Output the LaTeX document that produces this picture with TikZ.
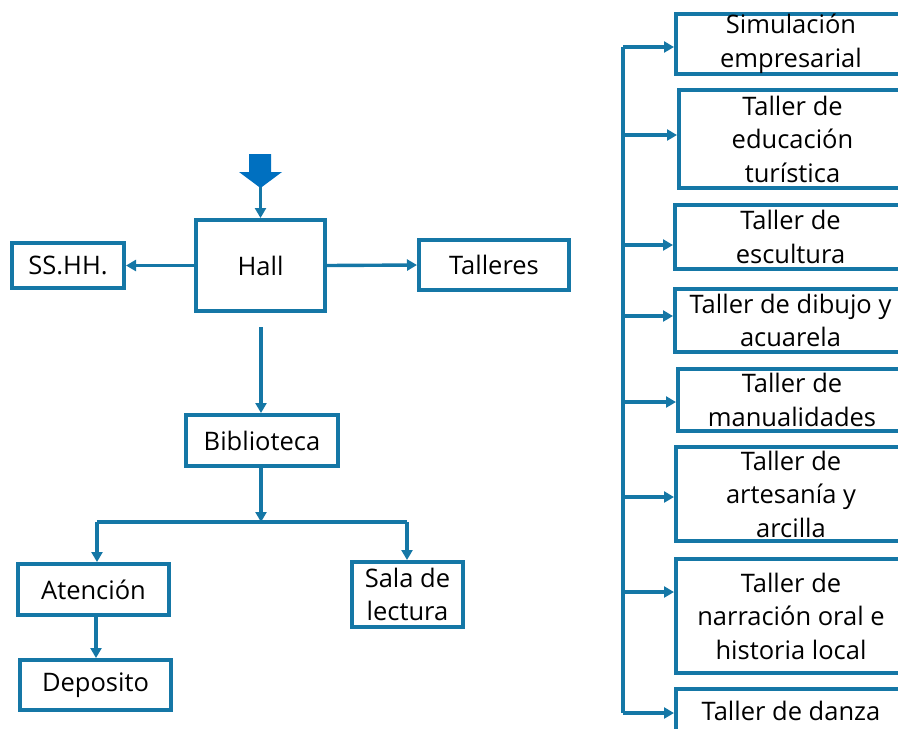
\documentclass[tikz,border=0pt]{standalone}
\usepackage{fontspec}
\setmainfont{Open Sans}
\usetikzlibrary{arrows.meta}
\definecolor{bord}{RGB}{21,119,166}
\definecolor{bigblue}{RGB}{0,112,192}
\begin{document}
\begin{tikzpicture}[x=1pt,y=-1pt,
  box/.style={draw=bord,line width=4pt,fill=white,align=center,inner sep=0pt,
    font=\fontsize{25.5}{33.5}\selectfont},
  conn/.style={draw=bord,line width=3.4pt},
  arr/.style={conn,-{Triangle[length=10pt,width=11pt]}},
]
\useasboundingbox (0,0) rectangle (898,729);
\clip (0,0) rectangle (898,729);
% left part
\node[box,minimum width=129pt,minimum height=91pt] (hall) at (260.5,265.5) {Hall};
\node[box,minimum width=112pt,minimum height=45pt] (sshh) at (68,265.5) {SS.HH.};
\node[box,minimum width=150pt,minimum height=50pt] (talleres) at (494,265) {Talleres};
\node[box,minimum width=152pt,minimum height=51pt] (bib) at (262,440.5) {Biblioteca};
\node[box,minimum width=151pt,minimum height=51pt] (aten) at (93.5,589.5) {Atención};
\node[box,minimum width=151pt,minimum height=50pt] (depo) at (95.5,685) {Deposito};
\node[box,minimum width=111pt,minimum height=65pt] (sala) at (407.5,594.5) {Sala de\\lectura};
% entrance arrow
\fill[bigblue] (249,154) -- (271,154) -- (271,172) -- (282,172) -- (260.5,188) -- (239,172) -- (249,172) -- cycle;
\coordinate (ent) at (260.5,187);
\draw[arr] (ent) -- (hall.north);
\draw[arr] (hall.west) -- (sshh.east);
\draw[arr] (hall.east) -- (talleres.west);
\coordinate (hb) at (261,327);
\draw[arr] (hb) -- (hb |- bib.north);
\coordinate (br) at (261,522);
\coordinate (brl) at (97,522);
\coordinate (brr) at (407,522);
\draw[arr] (br |- bib.south) -- (br);
\draw[conn] (brl) -- (brr);
\draw[arr] (brl) -- (brl |- aten.north);
\draw[arr] (brr) -- (brr |- sala.north);
\draw[arr] (96,617) -- (96,658);
% right column
\node[box,minimum width=230pt,minimum height=60pt] (sim) at (791,44) {Simulación\\empresarial};
\node[box,minimum width=227pt,minimum height=98pt] (edu) at (792.5,139) {Taller de\\educación\\turística};
\node[box,minimum width=231pt,minimum height=64pt] (esc) at (790.5,237) {Taller de\\escultura};
\node[box,minimum width=231pt,minimum height=63pt] (dib) at (790.5,320.5) {Taller de dibujo y\\acuarela};
\node[box,minimum width=228pt,minimum height=62pt] (man) at (792,400) {Taller de\\manualidades};
\node[box,minimum width=230pt,minimum height=94pt] (art) at (791,494) {Taller de\\artesanía y\\arcilla};
\node[box,minimum width=230pt,minimum height=114pt] (nar) at (791,616) {Taller de\\narración oral e\\historia local};
\node[box,minimum width=230pt,minimum height=44pt] (dan) at (791,711) {Taller de danza};
\coordinate (s1) at (623,47);
\coordinate (s2) at (623,135);
\coordinate (s3) at (623,245);
\coordinate (s4) at (623,316);
\coordinate (s5) at (623,402);
\coordinate (s6) at (623,497);
\coordinate (s7) at (623,592);
\coordinate (s8) at (623,713);
\draw[conn] (s1) -- (s8);
\draw[arr] (s1) -- (s1 -| sim.west);
\draw[arr] (s2) -- (s2 -| edu.west);
\draw[arr] (s3) -- (s3 -| esc.west);
\draw[arr] (s4) -- (s4 -| dib.west);
\draw[arr] (s5) -- (s5 -| man.west);
\draw[arr] (s6) -- (s6 -| art.west);
\draw[arr] (s7) -- (s7 -| nar.west);
\draw[arr] (s8) -- (s8 -| dan.west);
\end{tikzpicture}
\end{document}
